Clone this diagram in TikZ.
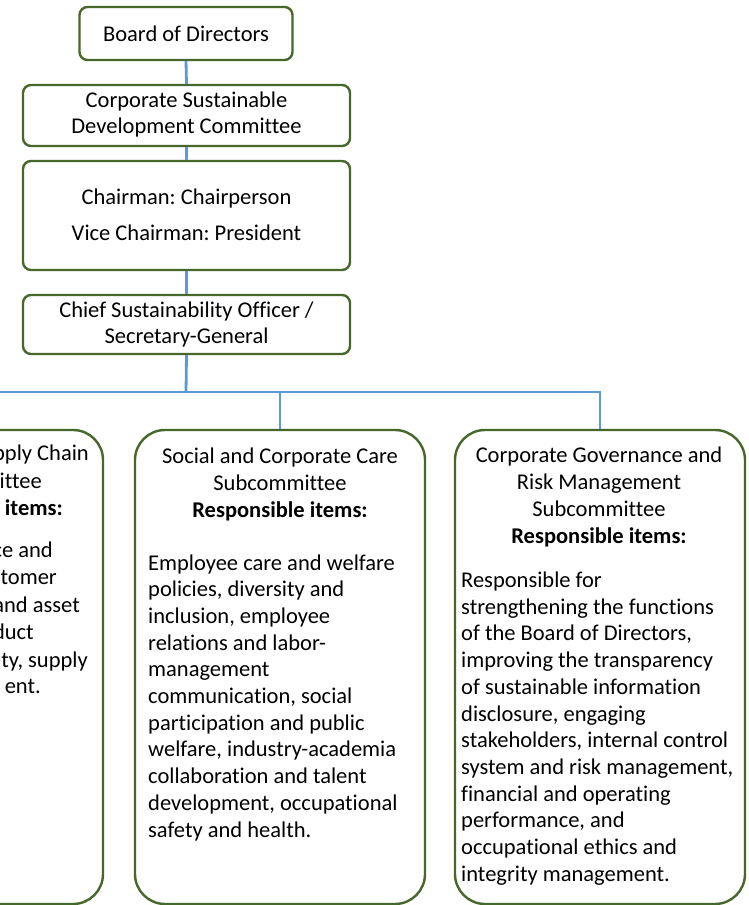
\documentclass[tikz,border=0pt]{standalone}
\usepackage{fontspec}
\setmainfont{Carlito}[Ligatures={NoCommon}]
\frenchspacing
\definecolor{boxgreen}{RGB}{70,104,42}
\definecolor{linkblue}{RGB}{91,155,213}
\begin{document}
\begin{tikzpicture}[x=1pt,y=-1pt,
  every node/.style={font=\fontsize{22.5}{26.7}\selectfont, inner sep=0pt},
  topbox/.style={draw=boxgreen, line width=2.4pt, rounded corners=8pt, fill=white},
  subbox/.style={draw=boxgreen, line width=2.4pt, rounded corners=30pt, fill=white,
                 minimum width=290pt, minimum height=474pt},
  link/.style={draw=linkblue, line width=2.8pt},
  title/.style={align=center},
  body/.style={align=left, anchor=west},
  frag/.style={anchor=base east}]
\useasboundingbox (0,0) rectangle (748,905);
\clip (0,0) rectangle (748,905);

% upper chain of boxes
\node[topbox, minimum width=213pt, minimum height=53pt] (board) at (186,33.5) {};
\node[topbox, minimum width=327pt, minimum height=61pt] (csd) at (186.5,115.5) {};
\node[topbox, minimum width=327pt, minimum height=109pt] (chair) at (186.5,215.5) {};
\node[topbox, minimum width=327pt, minimum height=59pt] (cso) at (186.5,324.5) {};

% subcommittees
\node[subbox] (left) at (-42,667) {};
\node[subbox] (mid) at (280,667) {};
\node[subbox] (right) at (600,667) {};

% connectors
\coordinate (bus) at (186,392);
\draw[link] (board.south) -- (csd.north);
\draw[link] (csd.south) -- (chair.north);
\draw[link] (chair.south) -- (cso.north);
\draw[link] (cso.south) -- (bus);
\draw[link] (left.north) |- (bus);
\draw[link] (right.north) |- (bus);
\draw[link] (mid.north) -- (mid.north |- bus);

% texts of the upper boxes
\node (tboard) at (board) {Board of Directors};
\node[title] (tcsd) at (186.5,114.5) {Corporate Sustainable\\Development Committee};
\node[title] (tchair) at (186.5,215) {Chairman: Chairperson\\[9.3pt]Vice Chairman: President};
\node[title] (tcso) at (186.5,324.5) {Chief Sustainability Officer /\\Secretary-General};

% left subcommittee (visible ends of its lines)
\node[frag] (l1) at (89,460) {pply Chain};
\node[frag] (l2) at (42,488) {ittee};
\node[frag] (l3) at (63,515) {\bfseries items:};
\node[frag] (l4) at (53,557) {ce and};
\node[frag] (l5) at (57,584) {stomer};
\node[frag] (l6) at (80,612) {and asset};
\node[frag] (l7) at (34,639) {duct};
\node[frag] (l8) at (88,667) {ty, supply};
\node[frag] (l9) at (41,693) {ent.};

% middle subcommittee
\node[title] (tmid) at (280,484.5) {Social and Corporate Care\\Subcommittee\\\textbf{Responsible items:}};
\node[body] (bmid) at (148,697.5) {Employee care and welfare\\policies, diversity and\\inclusion, employee\\relations and labor-\\management\\communication, social\\participation and public\\welfare, industry-academia\\collaboration and talent\\development, occupational\\safety and health.};

% right subcommittee
\node[title] (tright) at (599,497) {Corporate Governance and\\Risk Management\\Subcommittee\\\textbf{Responsible items:}};
\node[body] (bright) at (461,728.5) {Responsible for\\strengthening the functions\\of the Board of Directors,\\improving the transparency\\of sustainable information\\disclosure, engaging\\stakeholders, internal control\\system and risk management,\\financial and operating\\performance, and\\occupational ethics and\\integrity management.};
\end{tikzpicture}
\end{document}
